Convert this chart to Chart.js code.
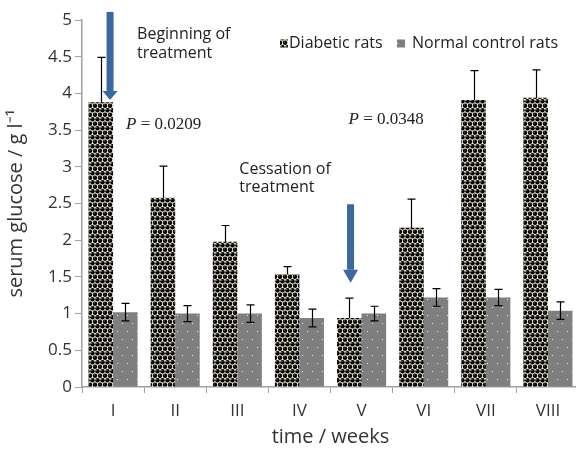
<!DOCTYPE html>
<html><head><meta charset="utf-8">
<script src="https://cdn.jsdelivr.net/npm/chart.js@4/dist/chart.umd.min.js"></script>
<style>html,body{margin:0;padding:0;overflow:hidden;background:#fff}</style>
</head><body>
<canvas id="c" width="580" height="453" style="display:block;width:580px;height:453px"></canvas>
<script>
const categories = ['I','II','III','IV','V','VI','VII','VIII'];
const diabetic = [3.88, 2.58, 1.98, 1.54, 0.94, 2.17, 3.91, 3.94];
const diabeticErr = [0.61, 0.43, 0.22, 0.10, 0.27, 0.39, 0.40, 0.38];
const normal = [1.02, 1.00, 1.00, 0.94, 1.00, 1.22, 1.22, 1.04];
const normalErr = [0.12, 0.11, 0.12, 0.12, 0.10, 0.12, 0.11, 0.12];
const seriesNames = ['Diabetic rats', 'Normal control rats'];
const yTicks = [0, 0.5, 1, 1.5, 2, 2.5, 3, 3.5, 4, 4.5, 5];

function makeDiabeticPattern() {
  const t = document.createElement('canvas'); t.width = 10; t.height = 9;
  const g = t.getContext('2d');
  g.fillStyle = '#efebd6'; g.fillRect(0,0,10,9);
  const pts = [[2.5,2.25],[7.5,2.25],[0,6.75],[5,6.75],[10,6.75],[2.5,11.25],[7.5,11.25],[0,-2.25],[5,-2.25],[10,-2.25]];
  for (const [x,y] of pts) {
    g.fillStyle = '#000'; g.beginPath(); g.arc(x,y,2.2,0,Math.PI*2); g.fill();
    g.fillStyle = '#909090'; g.beginPath(); g.arc(x-0.7,y-0.7,0.55,0,Math.PI*2); g.fill();
  }
  return g.createPattern(t,'repeat');
}
function makeNormalPattern() {
  const t = document.createElement('canvas'); t.width = 10; t.height = 16;
  const g = t.getContext('2d');
  g.fillStyle = '#7f7f7f'; g.fillRect(0,0,10,16);
  g.fillStyle = '#e8e8e8';
  g.fillRect(2,3,1,1); g.fillRect(7,11,1,1);
  return g.createPattern(t,'repeat');
}
const ctx0 = document.getElementById('c').getContext('2d');
const diaPat = makeDiabeticPattern();
const norPat = makeNormalPattern();

function drawErr(chart, dsIndex, errs) {
  const meta = chart.getDatasetMeta(dsIndex);
  const y = chart.scales.y;
  const ctx = chart.ctx;
  ctx.save();
  ctx.strokeStyle = '#000'; ctx.lineWidth = 1.2;
  meta.data.forEach((bar, i) => {
    const v = chart.data.datasets[dsIndex].data[i];
    const top = y.getPixelForValue(v + errs[i]);
    const bot = y.getPixelForValue(v - errs[i]);
    const x = Math.round(bar.x) + 0.5;
    ctx.beginPath();
    ctx.moveTo(x, top); ctx.lineTo(x, bot);
    ctx.moveTo(x-4, top); ctx.lineTo(x+4, top);
    ctx.moveTo(x-4, bot); ctx.lineTo(x+4, bot);
    ctx.stroke();
  });
  ctx.restore();
}
function arrow(ctx, x, yTop, yTip, headLen) {
  ctx.save();
  ctx.fillStyle = '#3d679f';
  ctx.fillRect(x-3.5, yTop, 7, yTip - headLen - yTop);
  ctx.beginPath();
  ctx.moveTo(x-7.5, yTip-headLen); ctx.lineTo(x+7.5, yTip-headLen); ctx.lineTo(x, yTip);
  ctx.closePath(); ctx.fill();
  ctx.restore();
}
function pText(ctx, x, y, val) {
  ctx.save();
  ctx.fillStyle = '#222'; ctx.textBaseline = 'middle'; ctx.textAlign = 'left';
  ctx.font = 'italic 17px "Liberation Serif"';
  ctx.fillText('P', x, y);
  let w = ctx.measureText('P').width;
  ctx.font = '17px "Liberation Serif"';
  ctx.fillText(' = ' + val, x + w, y);
  ctx.restore();
}

const errPlugin = {
  id: 'errs',
  beforeDatasetsDraw(chart) { drawErr(chart, 0, diabeticErr); },
  afterDatasetsDraw(chart) {
    drawErr(chart, 1, normalErr);
    const ctx = chart.ctx, xs = chart.scales.x, ys = chart.scales.y;
    arrow(ctx, xs.getPixelForValue(0) - 3, ys.getPixelForValue(5.11), ys.getPixelForValue(3.91), 9);
    arrow(ctx, xs.getPixelForValue(4) - 11, ys.getPixelForValue(2.49), ys.getPixelForValue(1.42), 13);
    ctx.save();
    ctx.fillStyle = '#222'; ctx.textBaseline = 'middle'; ctx.textAlign = 'left';
    ctx.font = '16px "Open Sans"';
    ctx.fillText('Beginning of', xs.getPixelForValue(0) + 24, ys.getPixelForValue(4.8));
    ctx.fillText('treatment', xs.getPixelForValue(0) + 24, ys.getPixelForValue(4.55));
    ctx.fillText('Cessation of', xs.getPixelForValue(2) + 2, ys.getPixelForValue(2.97));
    ctx.fillText('treatment', xs.getPixelForValue(2) + 2, ys.getPixelForValue(2.72));
    ctx.restore();
    pText(ctx, xs.getPixelForValue(0) + 13, ys.getPixelForValue(3.57), '0.0209');
    pText(ctx, xs.getPixelForValue(4) - 13, ys.getPixelForValue(3.64), '0.0348');
    ctx.save();
    ctx.font = '16px "Open Sans"'; ctx.textBaseline = 'middle';
    const ly = ys.getPixelForValue(4.68);
    ctx.fillStyle = diaPat; ctx.fillRect(280, ly-4, 8, 8);
    ctx.fillStyle = '#222'; ctx.fillText(seriesNames[0], 289, ly);
    ctx.fillStyle = norPat; ctx.fillRect(397, ly-4, 8, 8);
    ctx.fillStyle = '#222'; ctx.fillText(seriesNames[1], 412, ly);
    ctx.restore();
  }
};

Chart.defaults.font.family = '"Open Sans", sans-serif';
new Chart(ctx0, {
  type: 'bar',
  data: {
    labels: categories,
    datasets: [
      { label: seriesNames[0], data: diabetic, backgroundColor: diaPat, borderWidth: 0 },
      { label: seriesNames[1], data: normal, backgroundColor: norPat, borderWidth: 0 }
    ]
  },
  options: {
    responsive: false, animation: false,
    devicePixelRatio: 1,
    layout: { padding: { top: 20, right: 1, left: 0, bottom: 0 } },
    datasets: { bar: { barPercentage: 1.0, categoryPercentage: 0.79 } },
    plugins: { legend: { display: false }, tooltip: { enabled: false } },
    scales: {
      x: {
        grid: { offset: true, drawOnChartArea: false, drawTicks: true, tickLength: 6, color: '#a0a0a0' },
        border: { color: '#a0a0a0', width: 1.5 },
        ticks: { color: '#333', font: { size: 17 }, padding: 8 },
        title: { display: true, text: 'time / weeks', color: '#333', font: { size: 20 }, padding: { top: 0 } },
        afterFit(s) { s.height = 66; }
      },
      y: {
        min: 0, max: 5,
        afterBuildTicks(s) { s.ticks = yTicks.map(v => ({ value: v })); },
        grid: { drawOnChartArea: false, drawTicks: true, tickLength: 7, color: '#a0a0a0' },
        border: { color: '#a0a0a0', width: 1.5 },
        ticks: { color: '#333', font: { size: 17 }, padding: 3, callback: (v) => String(v) },
        title: { display: true, text: 'serum glucose / g l⁻¹', color: '#333', font: { size: 20 }, padding: { bottom: 0 } },
        afterFit(s) { s.width = 82; }
      }
    }
  },
  plugins: [errPlugin]
});
</script>
</body></html>
